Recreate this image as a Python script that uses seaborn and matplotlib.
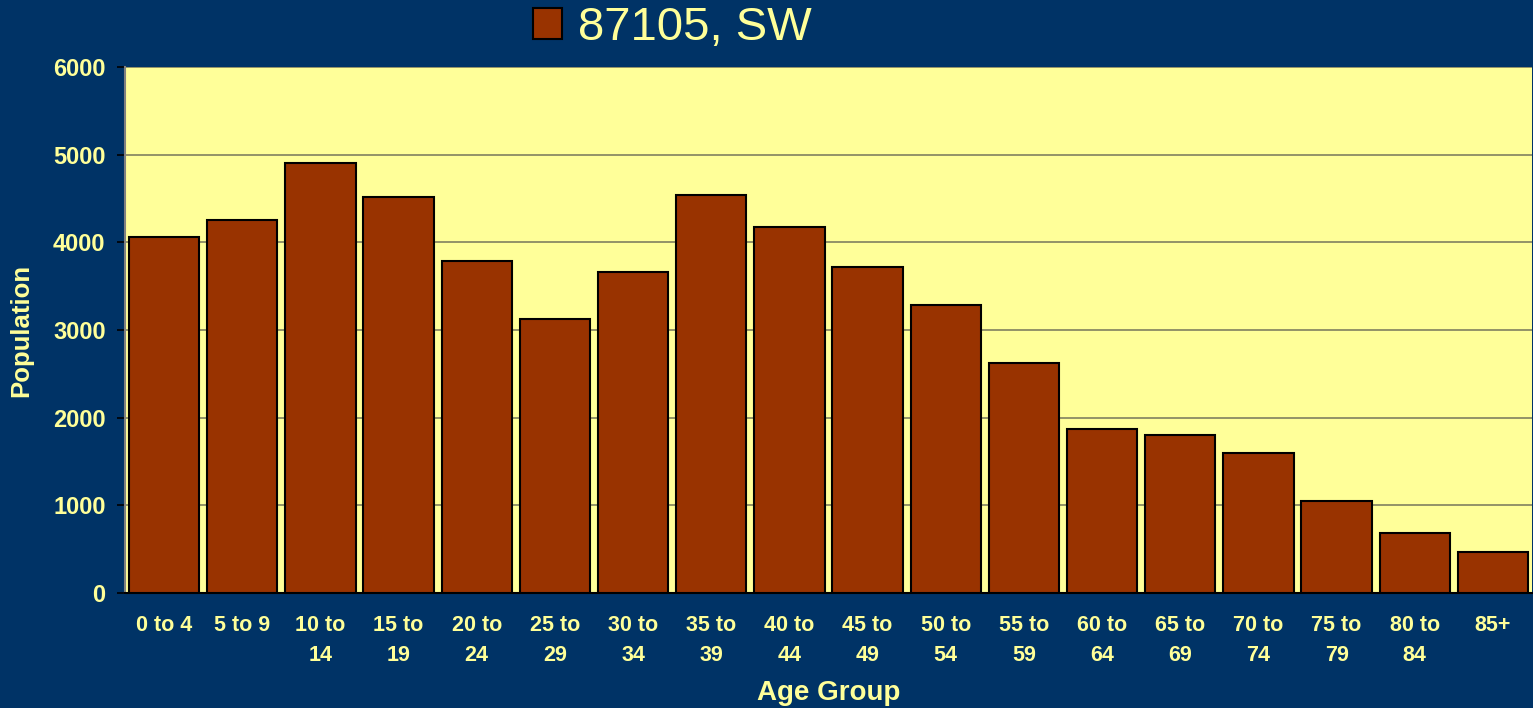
import numpy as np
import pandas as pd
import matplotlib
matplotlib.use("Agg")
import matplotlib.pyplot as plt
import seaborn as sns

# Data
age_groups = ["0 to 4", "5 to 9", "10 to\n14", "15 to\n19", "20 to\n24", "25 to\n29",
              "30 to\n34", "35 to\n39", "40 to\n44", "45 to\n49", "50 to\n54", "55 to\n59",
              "60 to\n64", "65 to\n69", "70 to\n74", "75 to\n79", "80 to\n84", "85+"]
population = [4060, 4250, 4910, 4520, 3790, 3130, 3660, 4540, 4180, 3720, 3290, 2625,
              1870, 1800, 1595, 1050, 685, 465]
series_name = "87105, SW"

y_ticks = [0, 1000, 2000, 3000, 4000, 5000, 6000]

NAVY = "#003366"
PALE = "#FFFF99"
BAR = "#993300"

sns.set_style("white")
plt.rcParams["font.family"] = ["Liberation Sans", "DejaVu Sans"]

df = pd.DataFrame({"Age Group": age_groups, "Population": population})

fig = plt.figure(figsize=(15.33, 7.08), dpi=100, facecolor=NAVY)
ax = fig.add_axes([125 / 1533, 115 / 708, 1407 / 1533, 526 / 708])
ax.set_facecolor(PALE)

sns.barplot(data=df, x="Age Group", y="Population", color=BAR, width=0.9,
            edgecolor="black", linewidth=1.5, saturation=1, ax=ax, zorder=3)

ax.set_ylim(0, 6000)
ax.set_xlim(-0.5, len(age_groups) - 0.5)
ax.set_yticks(y_ticks)
ax.set_yticklabels([str(v) for v in y_ticks], color=PALE, fontsize=17, fontweight="bold")
ax.yaxis.grid(True, color="#808060", linewidth=1.2, zorder=0)
ax.set_axisbelow(True)

# category labels at centres, tick marks at boundaries
ax.set_xticks(np.arange(len(age_groups)))
ax.set_xticklabels(age_groups, color=PALE, fontsize=15.5, fontweight="bold", linespacing=1.55)
ax.set_xticks(np.arange(-0.5, len(age_groups), 1), minor=True)
ax.tick_params(axis="x", which="major", length=0, pad=16)
ax.tick_params(axis="x", which="minor", length=5, color="black", width=1.2)
ax.tick_params(axis="y", length=6, color="black", width=1.2, pad=8, left=True)

for side in ["top", "right"]:
    ax.spines[side].set_visible(False)
ax.spines["left"].set_color("#808080")
ax.spines["left"].set_linewidth(1.5)
ax.spines["bottom"].set_color("black")
ax.spines["bottom"].set_linewidth(1.5)

ax.set_xlabel("Age Group", color=PALE, fontsize=20, fontweight="bold", labelpad=10)
ax.set_ylabel("Population", color=PALE, fontsize=18.5, fontweight="bold", labelpad=14)

handle = plt.Rectangle((0, 0), 1, 1, facecolor=BAR, edgecolor="black", linewidth=1.5)
leg = fig.legend([handle], [series_name], loc="upper left",
                 bbox_to_anchor=(490 / 1533, 1.052), frameon=False,
                 fontsize=34, handlelength=0.63, handleheight=0.63, handletextpad=0.33)
for t in leg.get_texts():
    t.set_color(PALE)

fig.savefig("out.png", dpi=100, facecolor=NAVY)
